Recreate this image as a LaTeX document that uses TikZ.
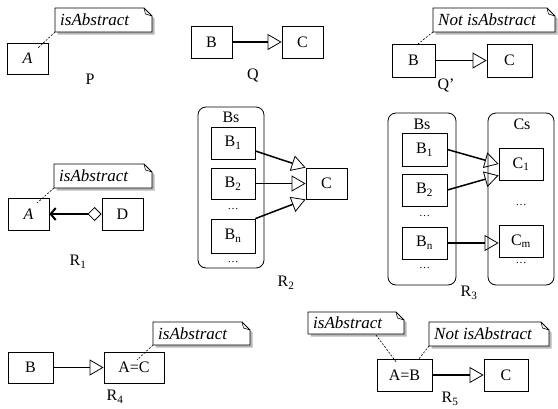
\documentclass[tikz,border=0pt]{standalone}
\usepackage{fontspec}
\setmainfont{Liberation Serif}
\usetikzlibrary{arrows.meta}
\tikzset{
  cls/.style={draw, line width=0.8pt, inner sep=0pt},
  grp/.style={draw, line width=0.8pt, rounded corners=8pt},
  lbl/.style={inner sep=0pt},
  notetext/.style={inner sep=0pt, font=\fontsize{17}{20}\selectfont\itshape},
  notelink/.style={line width=0.6pt, dash pattern=on 2pt off 1.5pt},
  gen/.style={line width=1.5pt, -{Triangle[open, length=14pt, width=16pt, line width=0.8pt]}},
}
\newcommand\notebox[6]{%
  \fill[black!28] (#2+2.5,#3+2.5) -- (#4+2.5-8,#3+2.5) -- (#4+2.5,#3+2.5+8) -- (#4+2.5,#5+2.5) -- (#2+2.5,#5+2.5) -- cycle;
  \filldraw[fill=white, line width=0.8pt] (#2,#3) -- (#4-8,#3) -- (#4,#3+8) -- (#4,#5) -- (#2,#5) -- cycle;
  \draw[line width=0.6pt] (#4-8,#3) -- (#4-6.5,#3+6) -- (#4,#3+8);
  \coordinate (#1-sw) at (#2,#5);
  \node[notetext, anchor=west] (#1) at (#2+5,{(#3+#5)/2}) {#6};
}
\begin{document}
\begin{tikzpicture}[x=1pt, y=-1pt, font=\fontsize{16}{19}\selectfont]
\useasboundingbox (0,0) rectangle (558,408);

% ---- P ----
\notebox{nP}{55}{8}{152}{32}{isAbstract}
\node[cls, minimum width=41pt, minimum height=31pt] (PA) at (27.5,58.5) {\textit{A}};
\coordinate (PAin) at (38,48);
\draw[notelink] (nP-sw) -- (PAin);
\node[lbl] (Plbl) at (90,79) {P};

% ---- Q ----
\node[cls, minimum width=41pt, minimum height=32pt] (QB) at (211.5,42) {B};
\node[cls, minimum width=41pt, minimum height=32pt] (QC) at (302.5,42) {C};
\draw[gen] (QB.east) -- (QC.west);
\node[lbl] (Qlbl) at (253,75) {Q};

% ---- Q' ----
\notebox{nQp}{433}{8}{555}{32}{Not isAbstract}
\node[cls, minimum width=43pt, minimum height=33pt] (QpB) at (413.5,60.5) {B};
\node[cls, minimum width=45pt, minimum height=33pt] (QpC) at (509.5,60.5) {C};
\coordinate (QpBin) at (418,44);
\draw[notelink] (nQp-sw) -- (QpBin);
\draw[gen] (QpB.east) -- (QpC.west);
\node[lbl] (Qplbl) at (446,85) {Q’};

% ---- R1 ----
\notebox{nR1}{54}{164}{152}{188}{isAbstract}
\node[cls, minimum width=41pt, minimum height=32pt] (R1A) at (28.5,214) {\textit{A}};
\node[cls, minimum width=41pt, minimum height=32pt] (R1D) at (122.5,214) {D};
\coordinate (R1Ain) at (37,203);
\draw[notelink] (nR1-sw) -- (R1Ain);
\draw[line width=1.5pt, {Straight Barb[length=5pt,width=12pt,line width=2pt]}-{Diamond[open,length=14pt,width=14pt,line width=0.8pt]}] (R1A.east) -- (R1D.west);
\node[lbl] (R1lbl) at (78,262) {R\textsubscript{1}};

% ---- R2 ----
\node[grp, minimum width=66pt, minimum height=161pt] (R2Bs) at (231,187.5) {};
\node[lbl] (R2Bst) at (231,117) {Bs};
\node[cls, minimum width=44pt, minimum height=32pt] (R2B1) at (233,143) {B\textsubscript{1}};
\node[cls, minimum width=44pt, minimum height=31pt] (R2B2) at (233,183.5) {B\textsubscript{2}};
\node[lbl, font=\fontsize{11}{12}\selectfont] (R2d1) at (233,209) {…};
\node[cls, minimum width=44pt, minimum height=34pt] (R2Bn) at (233,236) {B\textsubscript{n}};
\node[lbl, font=\fontsize{11}{12}\selectfont] (R2d2) at (233,262) {…};
\node[cls, minimum width=41pt, minimum height=31pt] (R2C) at (326.5,183.5) {C};
\draw[gen] ([yshift=-8pt]R2B1.east) -- (R2C.north west);
\draw[gen] (R2B2.east) -- (R2C.west);
\draw[gen] (R2Bn.north east) -- (R2C.south west);
\node[lbl] (R2lbl) at (286,283) {R\textsubscript{2}};

% ---- R3 ----
\node[grp, minimum width=68pt, minimum height=172pt] (R3Bs) at (422,199) {};
\node[lbl] (R3Bst) at (422,124) {Bs};
\node[cls, minimum width=45pt, minimum height=33pt] (R3B1) at (424.5,149.5) {B\textsubscript{1}};
\node[cls, minimum width=45pt, minimum height=32pt] (R3B2) at (424.5,190) {B\textsubscript{2}};
\node[lbl, font=\fontsize{11}{12}\selectfont] (R3d1) at (424.5,216) {…};
\node[cls, minimum width=45pt, minimum height=32pt] (R3Bn) at (424.5,243) {B\textsubscript{n}};
\node[lbl, font=\fontsize{11}{12}\selectfont] (R3d2) at (424.5,268) {…};
\node[grp, minimum width=66pt, minimum height=172pt] (R3Cs) at (521,199) {};
\node[lbl] (R3Cst) at (522,124) {Cs};
\node[cls, minimum width=44pt, minimum height=32pt] (R3C1) at (521,164) {C\textsubscript{1}};
\node[lbl, font=\fontsize{11}{12}\selectfont] (R3d3) at (521,205) {…};
\node[cls, minimum width=44pt, minimum height=32pt] (R3Cm) at (521,241) {C\textsubscript{m}};
\node[lbl, font=\fontsize{11}{12}\selectfont] (R3d4) at (521,263) {…};
\draw[gen] (R3B1.east) -- (R3C1.west);
\draw[gen] (R3B2.east) -- ([yshift=5pt]R3C1.south west);
\draw[gen] (R3Bn.east) -- (R3Bn.east -| R3Cm.west);
\node[lbl] (R3lbl) at (469,293) {R\textsubscript{3}};

% ---- R4 ----
\notebox{nR4}{153}{322}{250}{345}{isAbstract}
\node[cls, minimum width=45pt, minimum height=31pt] (R4B) at (30.5,367.5) {B};
\node[cls, minimum width=60pt, minimum height=31pt] (R4AC) at (134,367.5) {A=C};
\coordinate (R4ACin) at (137,360);
\draw[notelink] (nR4-sw) -- (R4ACin);
\draw[gen] (R4B.east) -- (R4AC.west);
\node[lbl] (R4lbl) at (115,397) {R\textsubscript{4}};

% ---- R5 ----
\notebox{nR5a}{308}{312}{404}{334}{isAbstract}
\notebox{nR5b}{429}{322}{549}{346}{Not isAbstract}
\node[cls, minimum width=55pt, minimum height=32pt] (R5AB) at (404.5,375) {A=B};
\node[cls, minimum width=44pt, minimum height=32pt] (R5C) at (506,375) {C};
\coordinate (R5a0) at (376,335);
\coordinate (R5ain) at (397,363);
\coordinate (R5bin) at (418,360);
\draw[notelink] (R5a0) -- (R5ain);
\draw[notelink] (nR5b-sw) -- (R5bin);
\draw[gen] (R5AB.east) -- (R5C.west);
\node[lbl] (R5lbl) at (450,399) {R\textsubscript{5}};
\end{tikzpicture}
\end{document}
